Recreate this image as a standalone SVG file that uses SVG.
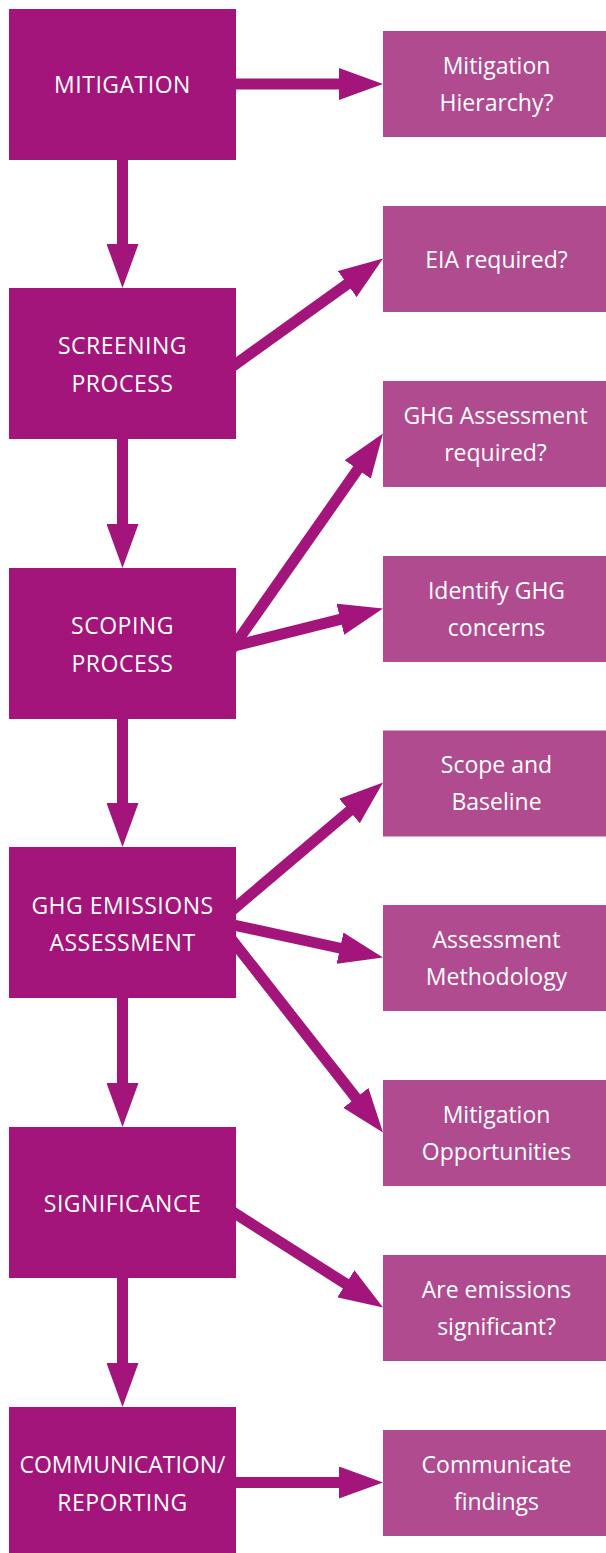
<svg xmlns="http://www.w3.org/2000/svg" width="606" height="1553" viewBox="0 0 606 1553">
<style>
.main{fill:#A3157A}
.side{fill:#B04B90}
.t{fill:#FFFFFF;font-family:"Open Sans","Liberation Sans",sans-serif;font-size:23px;text-anchor:middle}
.u{letter-spacing:0.5px}
.c{stroke:#A3157A;stroke-width:11;fill:none;marker-end:url(#ah)}
</style>
<defs>
<marker id="ah" markerUnits="userSpaceOnUse" markerWidth="44" markerHeight="32" refX="4" refY="16" orient="auto">
<path d="M0,0 L44,16 L0,32 Z" fill="#A3157A"/>
</marker>
</defs>
<rect width="606" height="1553" fill="#FFFFFF"/>
<g id="connectors">
<line class="c" x1="226" y1="84" x2="343" y2="84"/>
<line class="c" x1="122.5" y1="150" x2="122.5" y2="248"/>
<line class="c" x1="122.5" y1="430" x2="122.5" y2="528"/>
<line class="c" x1="122.5" y1="710" x2="122.5" y2="807"/>
<line class="c" x1="122.5" y1="990" x2="122.5" y2="1087"/>
<line class="c" x1="122.5" y1="1270" x2="122.5" y2="1367"/>
<line class="c" x1="223.8" y1="372.7" x2="350.5" y2="281.8"/>
<line class="c" x1="227.4" y1="655.3" x2="360.0" y2="466.2"/>
<line class="c" x1="221.5" y1="649.2" x2="344.2" y2="618.3"/>
<line class="c" x1="224.6" y1="916.7" x2="352.5" y2="808.4"/>
<line class="c" x1="221.3" y1="922.3" x2="343.9" y2="949.0"/>
<line class="c" x1="226.7" y1="933.2" x2="358.3" y2="1101.0"/>
<line class="c" x1="223.3" y1="1205.9" x2="349.25" y2="1286.0"/>
<line class="c" x1="226" y1="1482.5" x2="343" y2="1482.5"/>
</g>
<g id="mitigation">
<rect class="main" x="9" y="9" width="227" height="151"/>
<text class="t u" x="122.5" y="93">MITIGATION</text>
</g>
<g id="screening">
<rect class="main" x="9" y="288" width="227" height="151"/>
<text class="t u" x="122.5" y="354">SCREENING</text>
<text class="t u" x="122.5" y="391.5">PROCESS</text>
</g>
<g id="scoping">
<rect class="main" x="9" y="568" width="227" height="151"/>
<text class="t u" x="122.5" y="634">SCOPING</text>
<text class="t u" x="122.5" y="671.5">PROCESS</text>
</g>
<g id="ghg-assessment">
<rect class="main" x="9" y="847" width="227" height="151"/>
<text class="t u" x="122.5" y="913.5">GHG EMISSIONS</text>
<text class="t u" x="122.5" y="950.5">ASSESSMENT</text>
</g>
<g id="significance">
<rect class="main" x="9" y="1127" width="227" height="151"/>
<text class="t u" x="122.5" y="1211.5">SIGNIFICANCE</text>
</g>
<g id="communication">
<rect class="main" x="9" y="1407" width="227" height="151"/>
<text class="t" x="122.5" y="1472.7">COMMUNICATION/</text>
<text class="t u" x="122.5" y="1511">REPORTING</text>
</g>
<g id="mitigation-hierarchy">
<rect class="side" x="383" y="31" width="227" height="106"/>
<text class="t" x="496.5" y="73.5">Mitigation</text>
<text class="t" x="496.5" y="110.8">Hierarchy?</text>
</g>
<g id="eia-required">
<rect class="side" x="383" y="206" width="227" height="106"/>
<text class="t" x="496.5" y="267.5">EIA required?</text>
</g>
<g id="ghg-required">
<rect class="side" x="383" y="381" width="227" height="106"/>
<text class="t" x="495.5" y="423.5">GHG Assessment</text>
<text class="t" x="495.5" y="460.8">required?</text>
</g>
<g id="identify-ghg">
<rect class="side" x="383" y="556" width="227" height="106"/>
<text class="t" x="496.5" y="598.5">Identify GHG</text>
<text class="t" x="496.5" y="635.8">concerns</text>
</g>
<g id="scope-baseline">
<rect class="side" x="383" y="730.5" width="227" height="106"/>
<text class="t" x="496.5" y="773">Scope and</text>
<text class="t" x="496.5" y="810.3">Baseline</text>
</g>
<g id="assessment-methodology">
<rect class="side" x="383" y="905" width="227" height="106"/>
<text class="t" x="496.5" y="947.5">Assessment</text>
<text class="t" x="496.5" y="984.8">Methodology</text>
</g>
<g id="mitigation-opportunities">
<rect class="side" x="383" y="1080" width="227" height="106"/>
<text class="t" x="496.5" y="1122.5">Mitigation</text>
<text class="t" x="496.5" y="1159.8">Opportunities</text>
</g>
<g id="emissions-significant">
<rect class="side" x="383" y="1255" width="227" height="106"/>
<text class="t" x="496.5" y="1297.5">Are emissions</text>
<text class="t" x="496.5" y="1334.8">significant?</text>
</g>
<g id="communicate-findings">
<rect class="side" x="383" y="1430" width="227" height="106"/>
<text class="t" x="496.5" y="1472.5">Communicate</text>
<text class="t" x="496.5" y="1509.8">findings</text>
</g>
</svg>
